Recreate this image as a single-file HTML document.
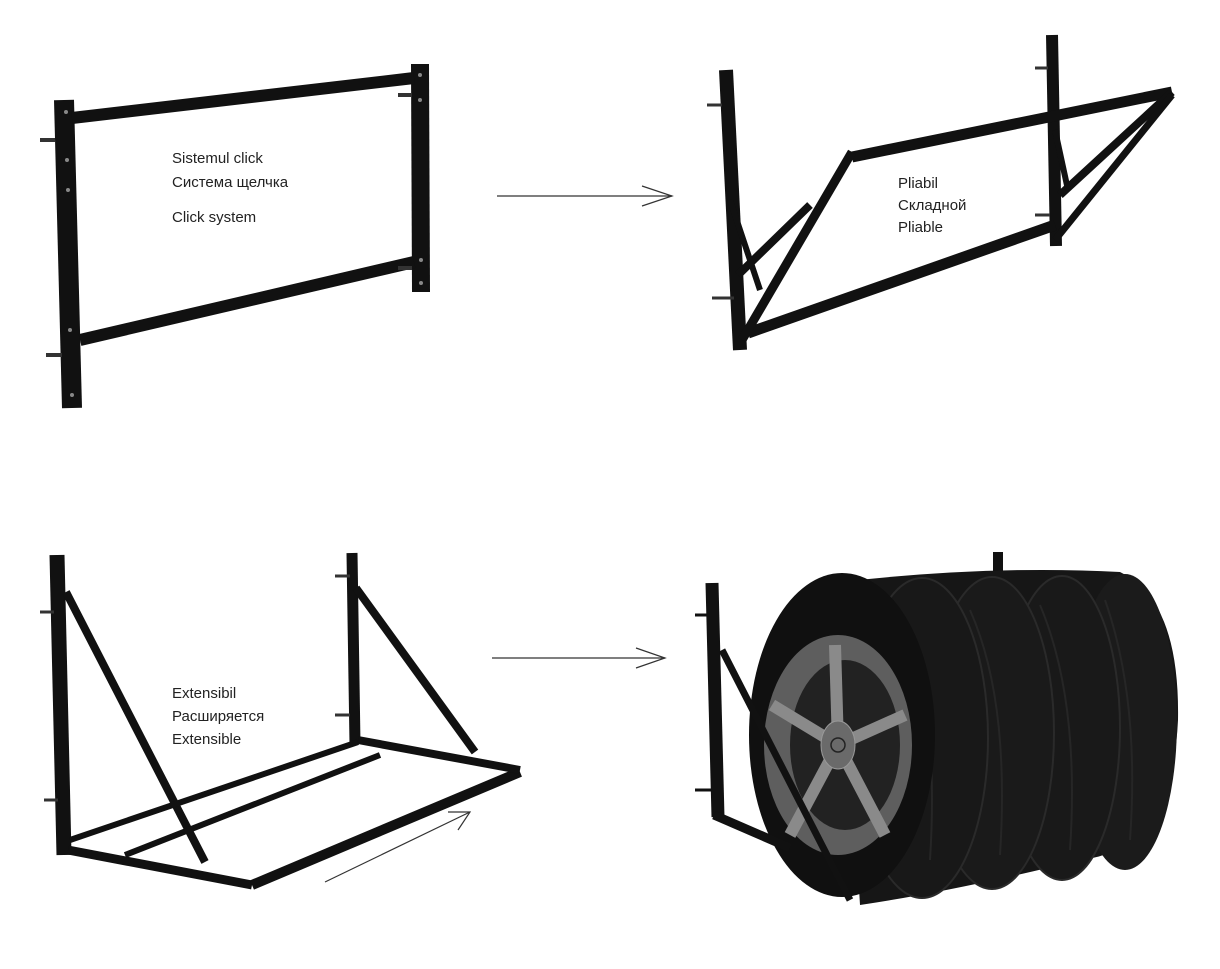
<!DOCTYPE html>
<html><head><meta charset="utf-8"><style>
html,body{margin:0;padding:0;background:#fff;width:1220px;height:969px;overflow:hidden}
svg{display:block}
text{font-family:"Liberation Sans",sans-serif;font-size:15px;fill:#222}
</style></head><body>
<svg width="1220" height="969" viewBox="0 0 1220 969">
<g stroke="#111" stroke-linecap="butt" fill="none">
<!-- top-left frame -->
<line x1="64" y1="100" x2="72" y2="408" stroke-width="20"/>
<line x1="420" y1="64" x2="421" y2="292" stroke-width="18"/>
<line x1="72" y1="118" x2="414" y2="78" stroke-width="12"/>
<line x1="80" y1="340" x2="414" y2="262" stroke-width="12"/>
<g stroke-width="4" stroke="#333"><line x1="40" y1="140" x2="55" y2="140"/><line x1="46" y1="355" x2="62" y2="355"/><line x1="398" y1="95" x2="412" y2="95"/><line x1="398" y1="268" x2="412" y2="268"/></g>
<g fill="#888" stroke="none"><circle cx="66" cy="112" r="2"/><circle cx="67" cy="160" r="2"/><circle cx="68" cy="190" r="2"/><circle cx="70" cy="330" r="2"/><circle cx="72" cy="395" r="2"/><circle cx="420" cy="75" r="2"/><circle cx="420" cy="100" r="2"/><circle cx="421" cy="260" r="2"/><circle cx="421" cy="283" r="2"/></g>
<!-- arrow 1 -->
<g stroke="#333" stroke-width="1.2"><line x1="497" y1="196" x2="672" y2="196"/><polyline points="642,186 672,196 642,206"/></g>
<!-- top-right frame -->
<line x1="726" y1="70" x2="740" y2="350" stroke-width="14"/>
<line x1="1052" y1="35" x2="1056" y2="246" stroke-width="12"/>
<line x1="852" y1="157" x2="1172" y2="92" stroke-width="11"/>
<line x1="748" y1="333" x2="1055" y2="225" stroke-width="11"/>
<line x1="742" y1="340" x2="852" y2="152" stroke-width="9"/>
<line x1="738" y1="275" x2="810" y2="205" stroke-width="8"/>
<line x1="730" y1="200" x2="760" y2="290" stroke-width="6"/>
<line x1="1060" y1="195" x2="1172" y2="92" stroke-width="8"/>
<line x1="1055" y1="130" x2="1068" y2="190" stroke-width="6"/>
<line x1="1055" y1="240" x2="1172" y2="95" stroke-width="7"/>
<g stroke-width="3" stroke="#333"><line x1="707" y1="105" x2="722" y2="105"/><line x1="712" y1="298" x2="734" y2="298"/><line x1="1035" y1="68" x2="1048" y2="68"/><line x1="1035" y1="215" x2="1050" y2="215"/></g>
<!-- bottom-left rack -->
<line x1="57" y1="555" x2="64" y2="855" stroke-width="15"/>
<line x1="352" y1="553" x2="355" y2="744" stroke-width="11"/>
<line x1="66" y1="592" x2="205" y2="862" stroke-width="8"/>
<line x1="356" y1="588" x2="475" y2="752" stroke-width="8"/>
<line x1="68" y1="850" x2="252" y2="885" stroke-width="9"/>
<line x1="252" y1="885" x2="520" y2="772" stroke-width="10"/>
<line x1="358" y1="740" x2="520" y2="770" stroke-width="8"/>
<line x1="70" y1="840" x2="358" y2="742" stroke-width="6"/>
<line x1="125" y1="855" x2="380" y2="755" stroke-width="6"/>
<g stroke-width="3" stroke="#333"><line x1="40" y1="612" x2="54" y2="612"/><line x1="44" y1="800" x2="58" y2="800"/><line x1="335" y1="576" x2="350" y2="576"/><line x1="335" y1="715" x2="350" y2="715"/></g>
<g stroke="#333" stroke-width="1.2"><line x1="325" y1="882" x2="470" y2="812"/><polyline points="448,812 470,812 458,830"/></g>
<!-- arrow 2 -->
<g stroke="#333" stroke-width="1.2"><line x1="492" y1="658" x2="665" y2="658"/><polyline points="636,648 665,658 636,668"/></g>
<!-- bottom-right rack (behind) -->
<line x1="998" y1="552" x2="998" y2="585" stroke-width="10"/>
<line x1="985" y1="578" x2="996" y2="578" stroke-width="3"/>
<line x1="900" y1="893" x2="1162" y2="766" stroke-width="9"/>
</g>
<!-- tires -->
<g>
<path d="M840 582 Q990 565 1120 572 Q1180 600 1178 720 Q1172 850 1080 860 Q960 890 860 905 Z" fill="#161616"/>
<ellipse cx="1125" cy="722" rx="52" ry="148" fill="#1b1b1b"/>
<ellipse cx="1062" cy="728" rx="58" ry="152" fill="#191919" stroke="#2a2a2a" stroke-width="2"/>
<ellipse cx="992" cy="733" rx="62" ry="156" fill="#1a1a1a" stroke="#2a2a2a" stroke-width="2"/>
<ellipse cx="922" cy="738" rx="66" ry="160" fill="#181818" stroke="#2a2a2a" stroke-width="2"/>
<g stroke="#262626" stroke-width="2" fill="none">
<path d="M900 620 Q940 700 930 860"/><path d="M970 610 Q1010 700 1000 855"/><path d="M1040 605 Q1080 700 1070 850"/><path d="M1105 600 Q1140 700 1130 840"/>
</g>
<ellipse cx="842" cy="735" rx="93" ry="162" fill="#101010"/>
<ellipse cx="838" cy="745" rx="74" ry="110" fill="#5e5e5e"/>
<ellipse cx="845" cy="745" rx="55" ry="85" fill="#222"/>
<g stroke="#8a8a8a" stroke-width="12" stroke-linecap="butt">
<line x1="838" y1="745" x2="835" y2="645"/>
<line x1="838" y1="745" x2="772" y2="705"/>
<line x1="838" y1="745" x2="905" y2="715"/>
<line x1="838" y1="745" x2="790" y2="835"/>
<line x1="838" y1="745" x2="885" y2="835"/>
</g>
<ellipse cx="838" cy="745" rx="17" ry="24" fill="#6a6a6a" stroke="#999"/>
<circle cx="838" cy="745" r="7" fill="none" stroke="#222" stroke-width="1.5"/>
</g>
<g stroke="#111" fill="none" stroke-linecap="butt">
<line x1="712" y1="583" x2="718" y2="817" stroke-width="13"/>
<line x1="695" y1="615" x2="710" y2="615" stroke-width="3"/>
<line x1="695" y1="790" x2="714" y2="790" stroke-width="3"/>
<line x1="714" y1="815" x2="790" y2="848" stroke-width="9"/>
<line x1="722" y1="650" x2="850" y2="900" stroke-width="7"/>
</g>
<text x="172" y="163">Sistemul click</text>
<text x="172" y="187">Система щелчка</text>
<text x="172" y="222">Click system</text>
<text x="898" y="188">Pliabil</text>
<text x="898" y="210">Складной</text>
<text x="898" y="232">Pliable</text>
<text x="172" y="698">Extensibil</text>
<text x="172" y="721">Расширяется</text>
<text x="172" y="744">Extensible</text>
</svg>
</body></html>
